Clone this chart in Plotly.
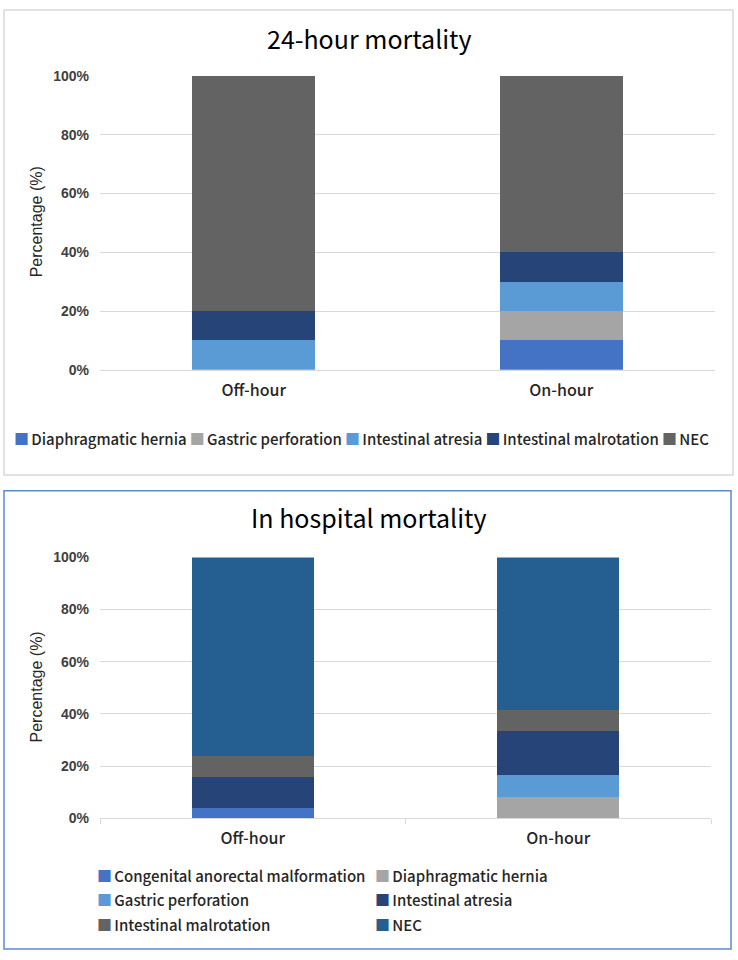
import plotly.graph_objects as go

W, H = 738, 960

# ---------- data ----------
cats = ["Off-hour", "On-hour"]

top_series = ["Diaphragmatic hernia", "Gastric perforation", "Intestinal atresia",
              "Intestinal malrotation", "NEC"]
top_values = {
    "Diaphragmatic hernia": [0, 10],
    "Gastric perforation": [0, 10],
    "Intestinal atresia": [10, 10],
    "Intestinal malrotation": [10, 10],
    "NEC": [80, 60],
}
top_colors = ["#4472C4", "#A5A5A5", "#5B9BD5", "#264478", "#636363"]

bot_series = ["Congenital anorectal malformation", "Diaphragmatic hernia", "Gastric perforation",
              "Intestinal atresia", "Intestinal malrotation", "NEC"]
bot_values = {
    "Congenital anorectal malformation": [4, 0],
    "Diaphragmatic hernia": [0, 8.33],
    "Gastric perforation": [0, 8.33],
    "Intestinal atresia": [12, 16.67],
    "Intestinal malrotation": [8, 8.33],
    "NEC": [76, 58.33],
}
bot_colors = ["#4472C4", "#A5A5A5", "#5B9BD5", "#264478", "#636363", "#255E91"]

y_ticks = [0, 20, 40, 60, 80, 100]
y_ticktext = ["0%", "20%", "40%", "60%", "80%", "100%"]

# ---------- helpers ----------
def px_x(p):
    return p / W

def px_y(p):
    return 1 - p / H

CJK = "Noto Sans CJK SC"
ARIAL = "Liberation Sans"
TXT = "#262626"

fig = go.Figure()

for name, col in zip(top_series, top_colors):
    fig.add_trace(go.Bar(x=cats, y=top_values[name], name=name, marker_color=col,
                         marker_line_width=0, xaxis="x", yaxis="y", showlegend=False))

for name, col in zip(bot_series, bot_colors):
    fig.add_trace(go.Bar(x=cats, y=bot_values[name], name=name, marker_color=col,
                         marker_line_width=0, xaxis="x2", yaxis="y2", showlegend=False))

grid = "#D9D9D9"
yax_common = dict(range=[0, 100], tickvals=y_ticks, ticktext=y_ticktext,
                  showgrid=True, gridcolor=grid, gridwidth=1, zeroline=False,
                  showline=False, ticks="", ticklabelstandoff=10,
                  tickfont=dict(family=ARIAL, size=14, color="#404040", weight="bold"))
xax_common = dict(showgrid=False, zeroline=False,
                  tickfont=dict(family=CJK, size=16, color=TXT, weight=500),
                  ticklabelstandoff=6)


def legend_swatch(color, text):
    return (f"<span style='color:{color};font-size:15px'>■</span>"
            f"<span style='font-size:10px'> </span>{text}")


SEP = "<span style='font-size:14px'> </span>"

annotations = [
    dict(text="24-hour mortality", x=0.5, y=px_y(30), xref="paper", yref="paper",
         xanchor="center", yanchor="middle", showarrow=False,
         font=dict(family=CJK, size=25, color="#000000")),
    dict(text="In hospital mortality", x=0.5, y=px_y(518), xref="paper", yref="paper",
         xanchor="center", yanchor="middle", showarrow=False,
         font=dict(family=CJK, size=25, color="#000000")),
    dict(text="Percentage (%)", x=px_x(36), y=px_y(218), xref="paper", yref="paper",
         xanchor="center", yanchor="middle",
         textangle=-90, showarrow=False, font=dict(family=ARIAL, size=16, color=TXT)),
    dict(text="Percentage (%)", x=px_x(36), y=px_y(691), xref="paper", yref="paper",
         xanchor="center", yanchor="middle",
         textangle=-90, showarrow=False, font=dict(family=ARIAL, size=16, color=TXT)),
]

# top legend: single row
top_leg_text = SEP.join(legend_swatch(c, n) for n, c in zip(top_series, top_colors))
annotations.append(dict(text=top_leg_text, x=px_x(361), y=px_y(438), xref="paper", yref="paper",
                        xanchor="center", yanchor="middle", showarrow=False,
                        font=dict(family=CJK, size=15, color=TXT, weight=500)))

# bottom legend: two columns, three rows
col_x = [95, 373]
row_y = [882, 907, 932]
for i, (n, c) in enumerate(zip(bot_series, bot_colors)):
    annotations.append(dict(text=legend_swatch(c, n), x=px_x(col_x[i % 2]), y=px_y(row_y[i // 2]),
                            xref="paper", yref="paper", xanchor="left", yanchor="middle",
                            showarrow=False,
                            font=dict(family=CJK, size=15, color=TXT, weight=500)))

fig.update_layout(
    width=W, height=H,
    margin=dict(l=0, r=0, t=0, b=0),
    paper_bgcolor="white", plot_bgcolor="white",
    barmode="stack", bargap=0.6,
    showlegend=False,
    xaxis=dict(domain=[px_x(100), px_x(715)], anchor="y",
               showline=True, linecolor=grid, linewidth=1, ticks="", **xax_common),
    yaxis=dict(domain=[px_y(368), px_y(69)], anchor="x", **yax_common),
    xaxis2=dict(domain=[px_x(100), px_x(711)], anchor="y2",
                showline=True, linecolor=grid, linewidth=1,
                ticks="outside", tickson="boundaries", ticklen=5, tickcolor=grid, **xax_common),
    yaxis2=dict(domain=[px_y(824), px_y(558.7)], anchor="x2", **yax_common),
    shapes=[
        dict(type="rect", xref="paper", yref="paper", x0=px_x(4), x1=px_x(733),
             y0=px_y(475), y1=px_y(2), line=dict(color="#D9D9D9", width=1.5)),
        dict(type="rect", xref="paper", yref="paper", x0=px_x(4), x1=px_x(731),
             y0=px_y(957), y1=px_y(491), line=dict(color="#5B8BD0", width=1.5)),
    ],
    annotations=annotations,
)

fig.write_html("out.html")
